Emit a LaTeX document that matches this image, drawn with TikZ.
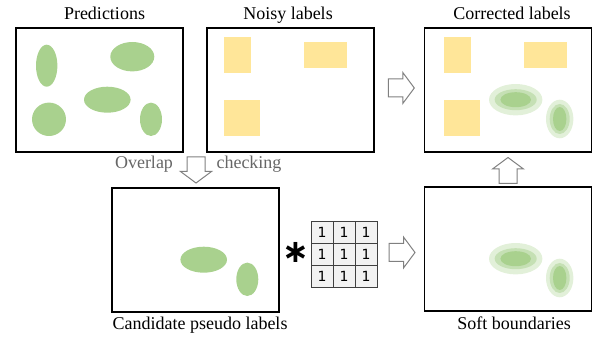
\documentclass[tikz,border=0pt]{standalone}
\usepackage{fontspec}
\setmainfont{Liberation Serif}
\newfontfamily\kernfont{DejaVu Sans}
\newfontfamily\astfont{DejaVu Sans Bold}
\usepackage{xcolor}
\usepackage{tikz}
\usetikzlibrary{shapes,arrows,positioning,calc}

\definecolor{predgreen}{HTML}{A9D18E}
\definecolor{labelyellow}{HTML}{FFE699}
\definecolor{softout}{HTML}{E2F0D9}
\definecolor{softmid}{HTML}{C5E0B4}
\definecolor{arrowgray}{HTML}{808080}
\definecolor{notegray}{HTML}{666666}
\definecolor{cellfill}{HTML}{F2F2F2}
\definecolor{cellborder}{HTML}{404040}

% hollow block arrow: centre x, centre y, angle
\newcommand\hollowarrow[3]{%
    \draw[arrowline,shift={(#1,#2)},rotate=#3]
        (-13,-9) -- (1.5,-9) -- (1.5,-15.5) -- (13,0) -- (1.5,15.5) -- (1.5,9) -- (-13,9) -- cycle;}

\begin{document}
\begin{tikzpicture}[x=1pt,y=-1pt,
    panel/.style={draw,line width=1.3pt,minimum width=167pt,minimum height=124pt,inner sep=0pt},
    title/.style={font=\fontsize{18}{20}\selectfont,anchor=base},
    arrowline/.style={draw=arrowgray,line width=1pt,fill=white,line join=miter},
    cell/.style={draw=cellborder,fill=cellfill,line width=0.9pt,minimum width=22pt,minimum height=22.3pt,
        inner sep=0pt,font=\kernfont\fontsize{14}{14}\selectfont}]
    \useasboundingbox (0,0) rectangle (600,339);

    % panels
    \node[panel] (pred) at (99.5,90) {};
    \node[panel] (noisy) at (290.5,90) {};
    \node[panel] (corr) at (508,90) {};
    \node[panel] (cand) at (195.5,250) {};
    \node[panel] (soft) at (508,249) {};

    % titles
    \node[title] (predtitle) at (104.5,19.5) {Predictions};
    \node[title] (noisytitle) at (288,19.5) {Noisy labels};
    \node[title] (corrtitle) at (512,19.5) {Corrected labels};
    \node[title] (candtitle) at (200,330) {Candidate pseudo labels};
    \node[title] (softtitle) at (514,330) {Soft boundaries};
    \node[title,text=notegray] (overlap) at (144,169) {Overlap};
    \node[title,text=notegray] (checking) at (249,169) {checking};

    % predictions
    \fill[predgreen] (46.7,65.7) ellipse (10.7 and 21);
    \fill[predgreen] (132.3,56.7) ellipse (22 and 14.7);
    \fill[predgreen] (107.3,99.7) ellipse (23.3 and 13);
    \fill[predgreen] (49,119.3) ellipse (17 and 16.7);
    \fill[predgreen] (151,119.3) ellipse (11 and 16.7);

    % noisy and corrected labels
    \foreach \dx in {0,220} {
        \fill[labelyellow] (224+\dx,37) rectangle (250.7+\dx,72.7);
        \fill[labelyellow] (224+\dx,100) rectangle (259.7+\dx,135.7);
    }
    \fill[labelyellow] (304,42) rectangle (346.7,67.7);
    \fill[labelyellow] (524,42) rectangle (566.7,67.7);

    % candidate pseudo labels
    \fill[predgreen] (203.7,259.7) ellipse (23.3 and 13);
    \fill[predgreen] (247.3,279.3) ellipse (11 and 16.7);

    % soft boundaries
    \foreach \dy in {0,159} {
        \fill[softout] (515.7,99.7+\dy) ellipse (26.7 and 15.7);
        \fill[softmid] (515.7,99.7+\dy) ellipse (21 and 10.5);
        \fill[predgreen] (515.7,99.7+\dy) ellipse (15.3 and 7.5);
        \fill[softout] (559.7,119+\dy) ellipse (13.7 and 19.3);
        \fill[softmid] (559.7,119+\dy) ellipse (10 and 15);
        \fill[predgreen] (559.7,119+\dy) ellipse (6.7 and 12);
    }

    % kernel
    \node[font=\astfont\fontsize{32}{32}\selectfont] (conv) at (295.5,252) {∗};
    \foreach \i in {0,1,2}
        \foreach \j in {0,1,2}
            \node[cell] (k\i\j) at (322+22*\i,232.2+22.3*\j) {1};

    % arrows
    \hollowarrow{401.3}{88}{0}
    \hollowarrow{196}{170}{-90}
    \hollowarrow{402}{252.5}{0}
    \hollowarrow{508}{170.5}{90}
\end{tikzpicture}
\end{document}
